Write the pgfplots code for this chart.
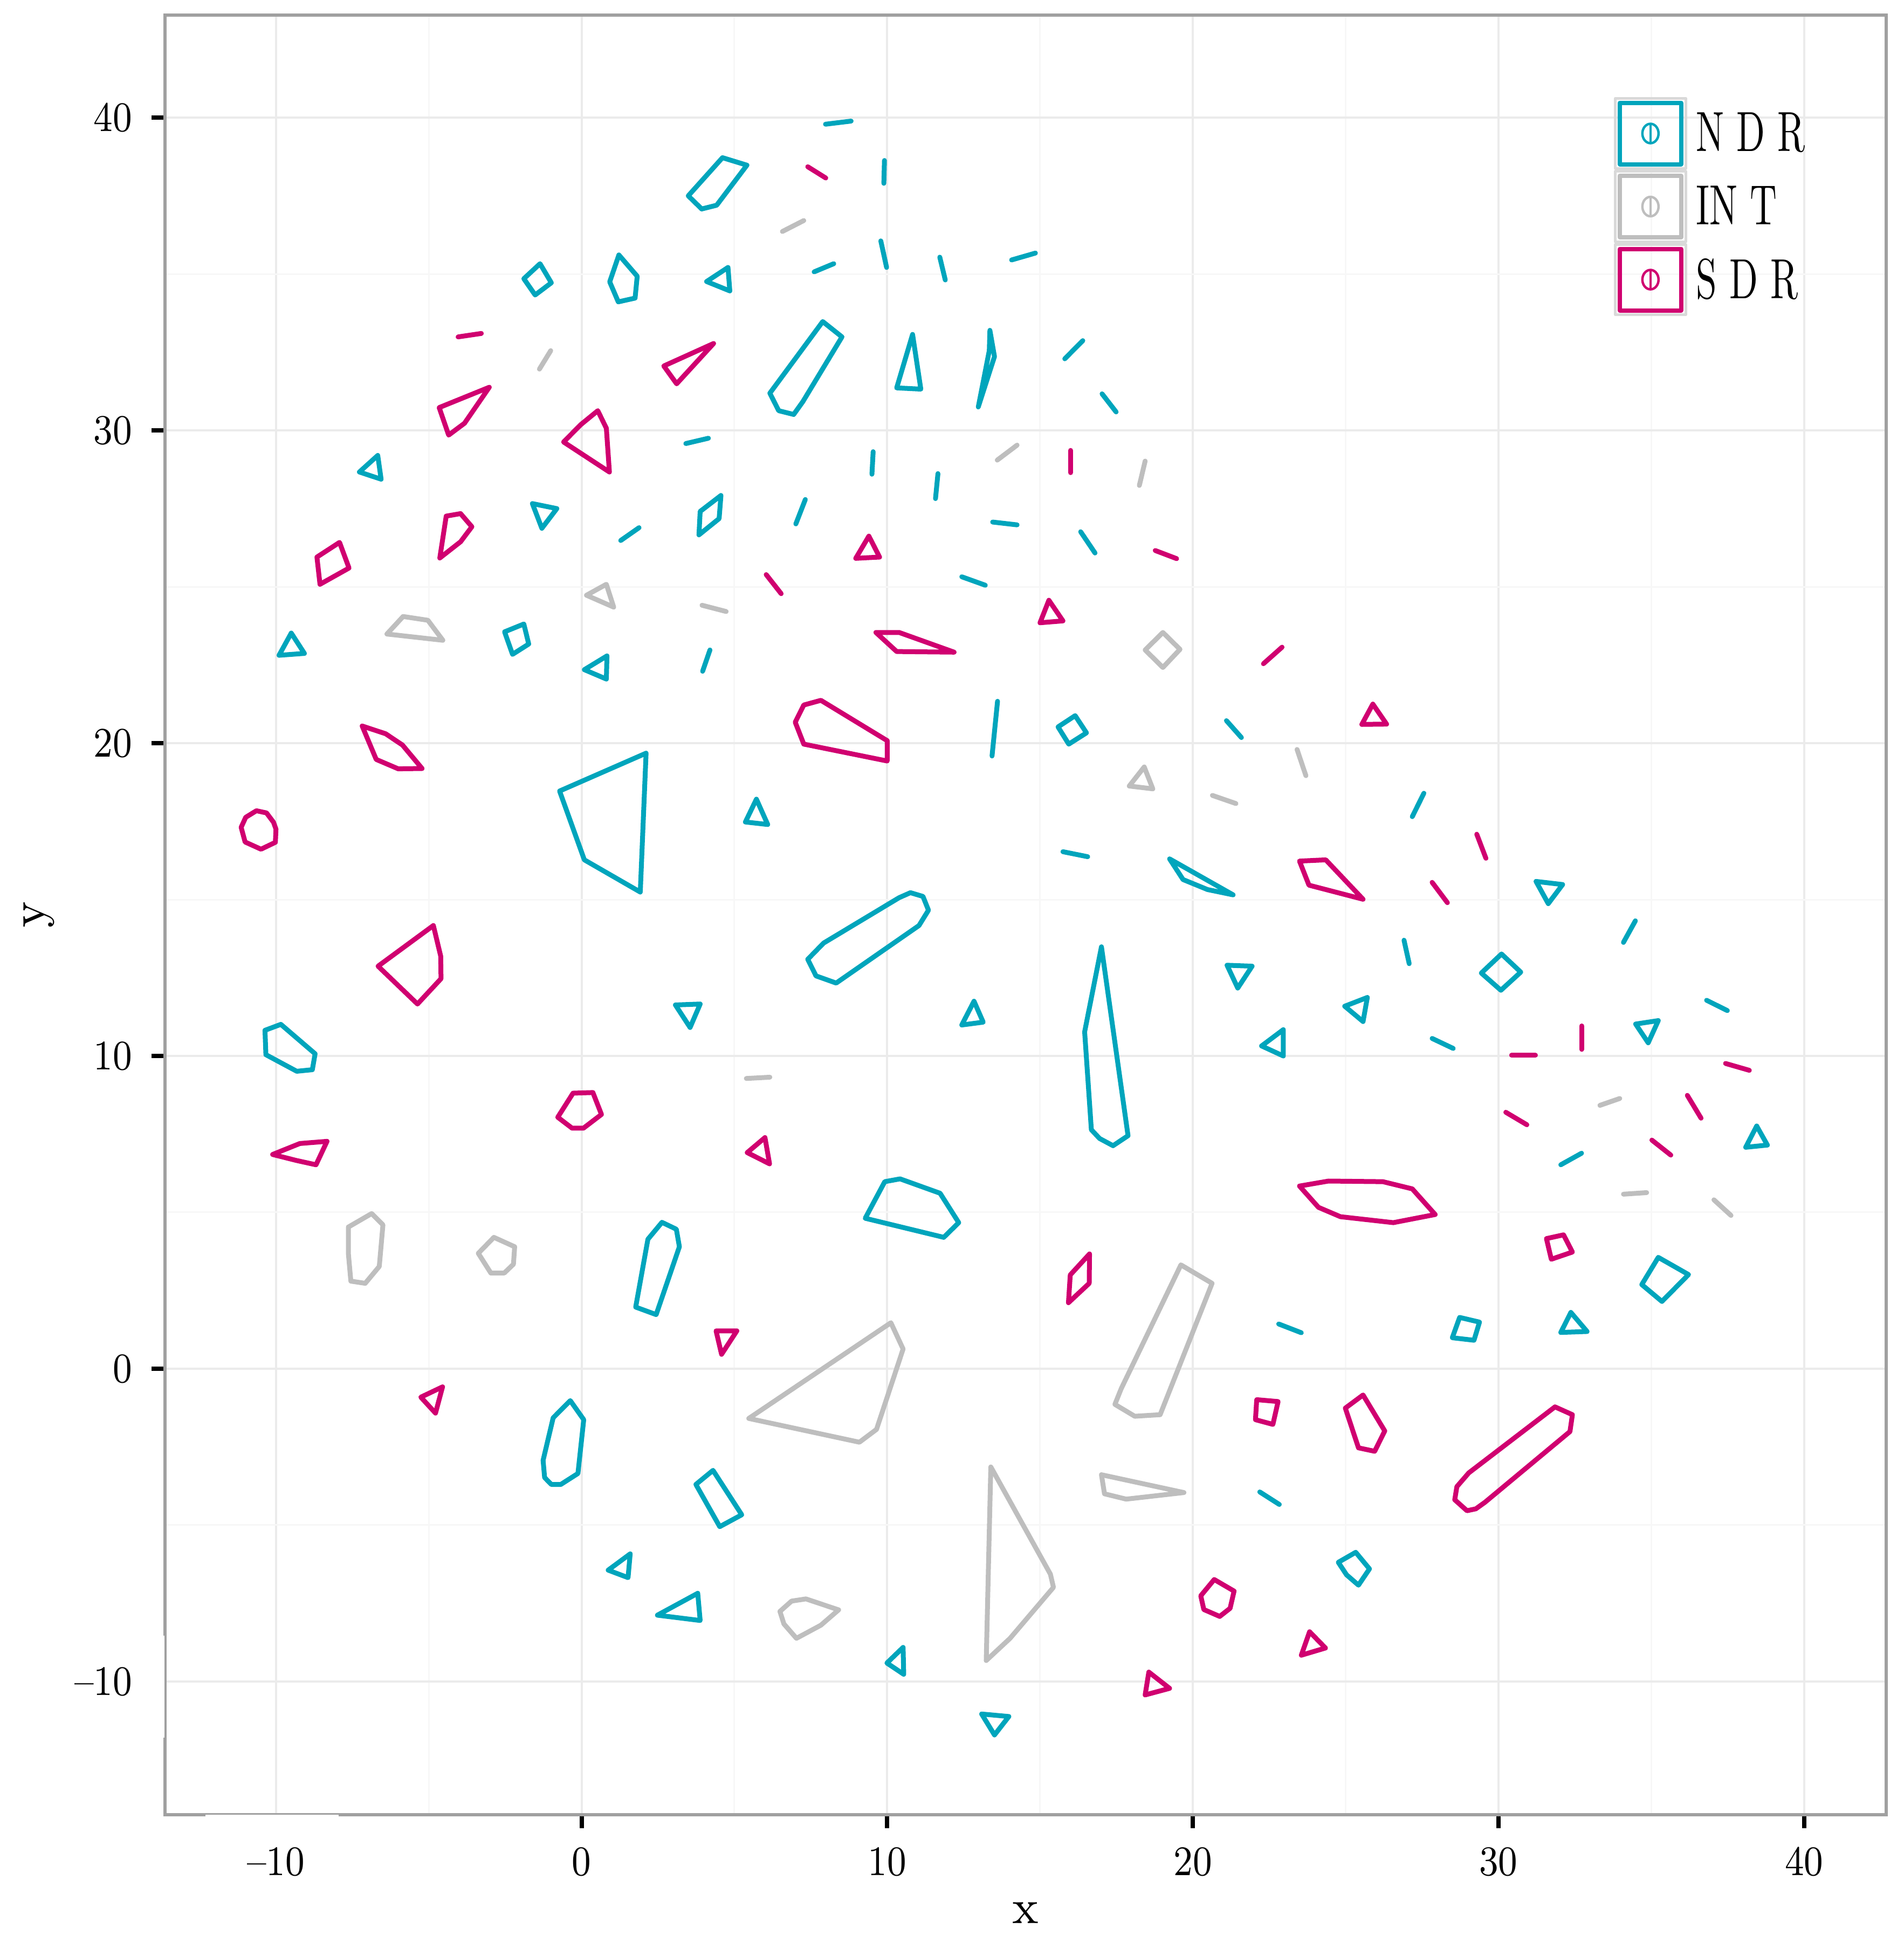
\documentclass[border=0pt]{standalone}
\usepackage{pgfplots}
\pgfplotsset{compat=1.18}
\usepackage{graphicx}

\definecolor{ndrc}{RGB}{0,165,188}
\definecolor{intc}{RGB}{190,190,190}
\definecolor{sdrc}{RGB}{208,0,112}
\definecolor{bordc}{RGB}{160,160,160}
\definecolor{gridc}{RGB}{235,235,235}
\definecolor{mgridc}{RGB}{247,247,247}
\definecolor{legbord}{RGB}{217,217,217}

\pgfplotsset{
  shape/.style={line width=0.9pt, mark=none, line join=round, line cap=round},
  ndr/.style={shape, draw=ndrc},
  int/.style={shape, draw=intc},
  sdr/.style={shape, draw=sdrc},
}
% one polygon / one segment per call
\newcommand{\ndrp}[1]{\addplot[ndr, forget plot] coordinates {#1} -- cycle;}
\newcommand{\ndrl}[1]{\addplot[ndr, forget plot] coordinates {#1};}
\newcommand{\intp}[1]{\addplot[int, forget plot] coordinates {#1} -- cycle;}
\newcommand{\intl}[1]{\addplot[int, forget plot] coordinates {#1};}
\newcommand{\sdrp}[1]{\addplot[sdr, forget plot] coordinates {#1} -- cycle;}
\newcommand{\sdrl}[1]{\addplot[sdr, forget plot] coordinates {#1};}
\newcommand{\tk}[1]{\scalebox{0.86}[1]{#1}}

\begin{document}
\begin{tikzpicture}
\path[use as bounding box] (0,0) rectangle (353pt,360.1pt);
\begin{axis}[
    at={(30.55pt,23.6pt)}, anchor=south west,
    scale only axis, width=319.25pt, height=333.7pt,
    xmin=-13.64, xmax=42.69, ymin=-14.26, ymax=43.28,
    xtick={-10,0,10,20,30,40}, ytick={-10,0,10,20,30,40},
    xticklabels={\raisebox{-1.2pt}{\tk{--10}},\tk{0},\tk{10},\tk{20},\tk{30},\tk{40}},
    yticklabels={\tk{--10},\tk{0},\tk{10},\tk{20},\tk{30},\tk{40}},
    minor tick num=1, minor tick length=0pt,
    grid=both,
    major grid style={draw=gridc, line width=0.4pt},
    minor grid style={draw=mgridc, line width=0.3pt},
    tick pos=left, tick align=outside, major tick length=2.5pt,
    tick style={draw=black, line width=0.8pt},
    axis line style={draw=bordc, line width=0.6pt},
    ticklabel style={font=\fontsize{7.8}{9}\selectfont},
    yticklabel style={xshift=0pt},
    xlabel={x}, ylabel={y},
    xlabel style={at={(axis description cs:0.5,-0.0605)}, anchor=base, font=\fontsize{9}{10}\selectfont},
    ylabel style={at={(axis description cs:-0.0699,0.5)}, anchor=base, rotate=0, font=\fontsize{9}{10}\selectfont},
    legend style={at={(axis description cs:0.8418,0.9545)}, anchor=north west,
      draw=none, fill=none, inner sep=0pt, outer sep=0pt,
      row sep=0pt, column sep=1.7pt,
      nodes={inner sep=0pt, outer sep=0pt},
      font=\fontsize{10.5}{12}\selectfont},
    legend cell align=left,
    legend image code/.code={
      \draw[draw=legbord, line width=0.5pt] (0pt,-6.525pt) rectangle (13.05pt,6.525pt);
      \draw[line width=0.8pt] (0.85pt,-5.7pt) rectangle (12.2pt,5.7pt);
      \draw[line width=0.45pt] (6.525pt,0pt) ellipse (1.5pt and 1.8pt);
      \draw[line width=0.35pt] (6.525pt,-1.8pt) -- (6.525pt,1.8pt);
    },
]
\addlegendimage{ndr}
\addlegendentry{\raisebox{-1pt}{\scalebox{0.66}[1]{N D R}}}
\addlegendimage{int}
\addlegendentry{\raisebox{-1pt}{\scalebox{0.66}[1]{IN T}}}
\addlegendimage{sdr}
\addlegendentry{\raisebox{-1pt}{\scalebox{0.66}[1]{S D R}}}

% NDR
\ndrp{(4.61,38.72) (5.41,38.48) (4.42,37.20) (3.93,37.08) (3.49,37.50)}
\ndrp{(-1.36,35.33) (-0.99,34.72) (-1.52,34.33) (-1.89,34.85)}
\ndrp{(1.22,35.61) (1.82,34.93) (1.75,34.23) (1.20,34.11) (0.92,34.75)}
\ndrp{(4.79,35.21) (4.85,34.46) (4.09,34.76)}
\ndrl{(3.41,29.58) (4.15,29.75)}
\ndrp{(-6.67,29.20) (-6.56,28.44) (-7.27,28.67)}
\ndrp{(-1.61,27.66) (-0.81,27.50) (-1.30,26.87)}
\ndrp{(4.56,27.92) (4.50,27.18) (3.84,26.66) (3.88,27.41)}
\ndrl{(1.88,26.89) (1.28,26.48)}
\ndrl{(7.98,39.79) (8.82,39.89)}
\ndrl{(9.91,38.63) (9.89,37.90)}
\ndrl{(9.79,36.06) (9.98,35.21)}
\ndrl{(7.61,35.07) (8.25,35.33)}
\ndrl{(11.72,35.54) (11.90,34.81)}
\ndrl{(14.07,35.45) (14.85,35.67)}
\ndrp{(7.89,33.48) (8.52,32.99) (7.24,30.92) (6.94,30.51) (6.45,30.63) (6.16,31.19)}
\ndrp{(10.83,33.07) (11.10,31.32) (10.31,31.36)}
\ndrp{(13.36,33.20) (13.51,32.36) (12.98,30.75) (13.34,32.55)}
\ndrl{(15.81,32.29) (16.40,32.87)}
\ndrl{(17.03,31.17) (17.49,30.59)}
\ndrl{(9.54,29.32) (9.50,28.60)}
\ndrl{(11.66,28.62) (11.58,27.82)}
\ndrl{(7.32,27.79) (7.01,27.01)}
\ndrl{(13.45,27.07) (14.25,26.98)}
\ndrl{(16.33,26.76) (16.80,26.08)}
\ndrp{(-9.50,23.52) (-9.07,22.87) (-9.90,22.81)}
\ndrp{(-2.52,23.56) (-1.89,23.81) (-1.73,23.17) (-2.26,22.84)}
\ndrp{(0.83,22.79) (0.81,22.05) (0.09,22.35)}
\ndrl{(4.20,22.98) (3.96,22.30)}
\ndrp{(-0.72,18.47) (2.11,19.68) (1.92,15.24) (0.09,16.27)}
\ndrp{(5.72,18.21) (6.09,17.40) (5.36,17.48)}
\ndrl{(12.44,25.32) (13.21,25.05)}
\ndrl{(13.61,21.34) (13.43,19.59)}
\ndrp{(15.59,20.52) (16.15,20.88) (16.52,20.33) (15.94,19.97)}
\ndrl{(21.10,20.72) (21.59,20.18)}
\ndrl{(15.75,16.53) (16.56,16.37)}
\ndrp{(19.24,16.30) (21.32,15.15) (20.48,15.32) (19.68,15.64)}
\ndrp{(10.76,15.22) (11.17,15.10) (11.35,14.66) (11.04,14.17) (8.33,12.33) (7.67,12.56) (7.40,13.09) (7.92,13.61) (10.39,15.06)}
\ndrp{(17.01,13.49) (17.88,7.45) (17.39,7.13) (16.95,7.36) (16.68,7.64) (16.46,10.77)}
\ndrp{(21.12,12.90) (21.94,12.87) (21.47,12.17)}
\ndrl{(27.18,17.65) (27.56,18.40)}
\ndrp{(31.23,15.58) (32.10,15.48) (31.63,14.87)}
\ndrl{(34.09,13.63) (34.48,14.32)}
\ndrl{(26.91,13.70) (27.08,12.95)}
\ndrp{(30.10,13.26) (30.73,12.68) (30.08,12.10) (29.44,12.65)}
\ndrp{(-9.84,11.01) (-8.72,10.07) (-8.81,9.56) (-9.32,9.51) (-10.33,10.04) (-10.36,10.82)}
\ndrp{(3.07,11.63) (3.88,11.66) (3.55,10.91)}
\ndrp{(2.63,4.68) (3.10,4.46) (3.20,3.90) (2.44,1.73) (1.77,1.97) (2.17,4.14)}
\ndrp{(-0.37,-1.02) (0.07,-1.63) (-0.12,-3.35) (-0.68,-3.70) (-0.99,-3.70) (-1.21,-3.48) (-1.26,-2.93) (-0.93,-1.57)}
\ndrp{(12.84,11.75) (13.14,11.08) (12.44,10.99)}
\ndrp{(22.96,10.84) (22.96,10.00) (22.25,10.32)}
\ndrp{(9.28,4.81) (9.92,5.98) (10.42,6.07) (11.73,5.61) (12.34,4.67) (11.85,4.20)}
\ndrl{(22.81,1.43) (23.55,1.15)}
\ndrp{(25.71,11.87) (25.57,11.10) (24.97,11.59)}
\ndrl{(27.83,10.56) (28.52,10.24)}
\ndrp{(34.49,11.02) (35.23,11.13) (34.90,10.42)}
\ndrl{(36.81,11.78) (37.49,11.45)}
\ndrp{(38.45,7.76) (38.80,7.15) (38.09,7.08)}
\ndrl{(32.04,6.52) (32.72,6.89)}
\ndrp{(35.23,3.56) (36.22,3.01) (35.35,2.15) (34.69,2.69)}
\ndrp{(28.73,1.64) (29.38,1.49) (29.20,0.91) (28.49,0.99)}
\ndrp{(32.37,1.80) (32.90,1.19) (32.04,1.16)}
\ndrp{(4.30,-3.25) (5.24,-4.67) (4.52,-5.05) (3.74,-3.70)}
\ndrp{(1.59,-5.92) (1.52,-6.68) (0.87,-6.44)}
\ndrp{(3.80,-7.18) (3.88,-8.05) (2.48,-7.88)}
\ndrl{(22.19,-3.94) (22.83,-4.34)}
\ndrp{(10.52,-8.91) (10.54,-9.77) (9.99,-9.41)}
\ndrp{(13.09,-11.04) (13.98,-11.12) (13.51,-11.71)}
\ndrp{(25.33,-5.87) (25.78,-6.40) (25.42,-6.92) (25.03,-6.59) (24.76,-6.19)}

% INT
\intl{(-1.38,31.96) (-1.01,32.55)}
\intl{(6.57,36.36) (7.27,36.71)}
\intl{(13.60,29.05) (14.25,29.53)}
\intl{(18.44,29.02) (18.25,28.24)}
\intp{(0.16,24.73) (0.81,25.08) (1.05,24.35)}
\intl{(3.94,24.41) (4.73,24.21)}
\intp{(-6.37,23.49) (-5.84,24.05) (-5.03,23.93) (-4.54,23.29)}
\intp{(19.02,23.54) (19.58,23.00) (19.02,22.42) (18.44,22.98)}
\intl{(23.41,19.80) (23.70,18.96)}
\intp{(18.41,19.24) (18.69,18.54) (17.92,18.63)}
\intl{(20.64,18.33) (21.41,18.07)}
\intl{(5.39,9.28) (6.16,9.32)}
\intp{(-7.63,4.53) (-6.87,4.96) (-6.50,4.60) (-6.62,3.27) (-7.08,2.73) (-7.55,2.80) (-7.63,3.67)}
\intp{(-2.87,4.20) (-2.19,3.90) (-2.23,3.34) (-2.53,3.06) (-2.97,3.06) (-3.38,3.69)}
\intp{(19.61,3.32) (20.63,2.73) (18.93,-1.47) (18.10,-1.52) (17.45,-1.14) (17.66,-0.63)}
\intp{(10.12,1.47) (10.52,0.63) (9.65,-1.94) (9.09,-2.35) (5.47,-1.59)}
\intl{(33.32,8.42) (33.97,8.64)}
\intl{(34.09,5.58) (34.85,5.63)}
\intl{(37.05,5.40) (37.61,4.90)}
\intp{(13.39,-3.14) (15.34,-6.57) (15.44,-6.99) (14.02,-8.62) (13.24,-9.33)}
\intp{(17.01,-3.39) (19.71,-3.96) (17.82,-4.17) (17.11,-4.00)}
\intp{(7.34,-7.36) (8.41,-7.71) (7.83,-8.20) (7.03,-8.62) (6.62,-8.16) (6.49,-7.76) (6.87,-7.43)}

% SDR
\sdrl{(-4.04,32.99) (-3.28,33.10)}
\sdrp{(2.69,32.06) (4.32,32.78) (3.11,31.49)}
\sdrp{(-4.66,30.73) (-3.02,31.38) (-3.83,30.23) (-4.35,29.85)}
\sdrp{(-0.59,29.63) (-0.02,30.19) (0.53,30.63) (0.81,30.07) (0.91,28.67)}
\sdrp{(-4.43,27.26) (-3.96,27.34) (-3.59,26.92) (-3.96,26.44) (-4.64,25.92)}
\sdrl{(7.40,38.43) (7.99,38.07)}
\sdrl{(16.00,29.36) (16.00,28.65)}
\sdrp{(9.40,26.62) (9.75,25.95) (8.97,25.91)}
\sdrp{(-8.66,25.95) (-7.92,26.42) (-7.61,25.60) (-8.56,25.08)}
\sdrp{(-7.18,20.55) (-6.41,20.30) (-5.86,19.94) (-5.22,19.19) (-6.00,19.18) (-6.72,19.48)}
\sdrp{(-10.64,17.84) (-10.31,17.77) (-10.08,17.47) (-10.00,17.25) (-10.02,16.83) (-10.49,16.61) (-11.01,16.84) (-11.14,17.31) (-10.99,17.63)}
\sdrp{(-6.66,12.87) (-4.85,14.17) (-4.61,13.19) (-4.60,12.47) (-5.37,11.66)}
\sdrl{(6.04,25.39) (6.53,24.78)}
\sdrl{(18.77,26.16) (19.47,25.90)}
\sdrp{(15.29,24.57) (15.75,23.91) (15.00,23.85)}
\sdrp{(9.63,23.54) (10.39,23.54) (12.19,22.91) (10.31,22.93)}
\sdrl{(22.31,22.54) (22.92,23.07)}
\sdrp{(7.27,21.22) (7.83,21.37) (10.00,20.08) (10.00,19.43) (7.27,19.97) (6.99,20.67)}
\sdrp{(23.49,16.23) (24.35,16.27) (25.57,15.01) (23.80,15.46)}
\sdrp{(25.89,21.25) (26.34,20.61) (25.53,20.60)}
\sdrl{(29.29,17.09) (29.59,16.32)}
\sdrl{(27.83,15.55) (28.33,14.90)}
\sdrp{(-0.28,8.81) (0.37,8.83) (0.65,8.13) (0.06,7.69) (-0.31,7.69) (-0.78,8.04)}
\sdrp{(-10.11,6.85) (-9.22,7.20) (-8.33,7.27) (-8.69,6.52) (-9.34,6.66)}
\sdrp{(5.42,6.91) (6.00,7.39) (6.15,6.55)}
\sdrp{(4.40,1.21) (5.08,1.21) (4.58,0.46)}
\sdrp{(-4.55,-0.58) (-4.78,-1.42) (-5.26,-0.91)}
\sdrp{(16.62,3.67) (16.61,2.73) (15.93,2.11) (15.99,3.00)}
\sdrp{(22.09,-0.99) (22.79,-1.05) (22.62,-1.78) (22.05,-1.63)}
\sdrl{(30.43,10.02) (31.21,10.02)}
\sdrl{(32.72,10.96) (32.72,10.21)}
\sdrl{(37.43,9.76) (38.21,9.54)}
\sdrl{(30.24,8.20) (30.93,7.80)}
\sdrl{(36.18,8.74) (36.63,8.01)}
\sdrl{(35.02,7.31) (35.64,6.83)}
\sdrp{(23.49,5.84) (24.44,6.00) (26.22,5.98) (27.18,5.75) (27.93,4.93) (26.56,4.67) (24.83,4.86) (24.11,5.16)}
\sdrp{(31.57,4.16) (32.13,4.28) (32.42,3.73) (31.73,3.50)}
\sdrp{(25.57,-0.84) (26.28,-1.99) (25.95,-2.64) (25.42,-2.53) (24.99,-1.26)}
\sdrp{(31.85,-1.22) (32.42,-1.47) (32.34,-2.01) (29.56,-4.27) (29.26,-4.48) (28.97,-4.54) (28.57,-4.19) (28.64,-3.77) (29.03,-3.33)}
\sdrp{(20.70,-6.74) (21.35,-7.11) (21.22,-7.66) (20.88,-7.92) (20.36,-7.70) (20.26,-7.26)}
\sdrp{(18.56,-9.70) (19.24,-10.22) (18.44,-10.43)}
\sdrp{(23.82,-8.41) (24.34,-8.93) (23.55,-9.16)}
\end{axis}
% white patches over the frame where the -10 labels sit in the original
\fill[white] (38.07pt,20.4pt) rectangle (62.83pt,23.55pt);
\fill[white] (27.3pt,37.94pt) rectangle (30.5pt,56.84pt);
\end{tikzpicture}
\end{document}
